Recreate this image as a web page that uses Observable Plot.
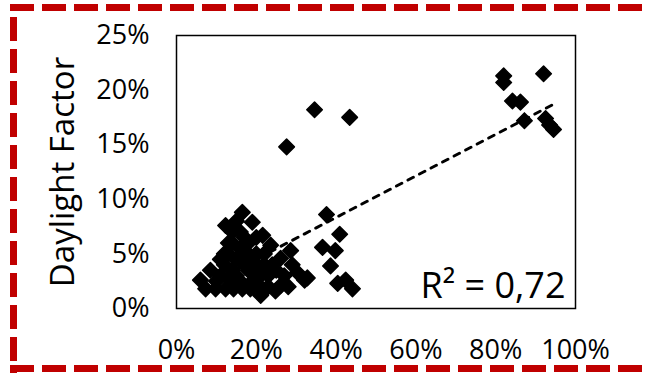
<!DOCTYPE html>
<html>
<head>
<meta charset="utf-8">
<script src="https://cdn.jsdelivr.net/npm/d3@7"></script>
<script src="https://cdn.jsdelivr.net/npm/@observablehq/plot@0.6"></script>
<style>
  html, body { margin: 0; padding: 0; background: #fff; }
  #wrap { position: relative; width: 649px; height: 373px; overflow: hidden; }
  #border { position: absolute; left: 0; top: 0; pointer-events: none; }
</style>
</head>
<body>
<div id="wrap"></div>
<script>
// Window-to-wall ratio (%) vs Daylight Factor (%)
const xValues = [
  27.6, 34.6, 43.4,
  82.0, 82.0, 92.0, 84.2, 86.2, 87.2, 92.5, 93.5, 94.5,
  37.6, 40.9, 36.6, 39.8, 38.6, 32.1, 40.4, 42.4, 44.1,
  16.5, 19.0, 12.3, 21.6, 23.6, 6.0, 8.5, 26.1, 28.6, 30.3, 26.1, 32.8, 21.1, 24.8,
  7.3, 9.8, 12.3, 14.3, 16.5, 18.5,
  13, 14, 15, 16, 17, 15, 18, 19, 20, 21, 22, 17, 14, 12, 19, 23, 16, 13, 11, 10,
  14, 15, 18, 20, 13, 16, 18, 20, 22, 24, 25, 11, 12, 17, 19, 21, 23, 27, 28, 29
];
const yValues = [
  14.8, 18.2, 17.5,
  21.3, 20.7, 21.5, 19.0, 18.9, 17.2, 17.4, 16.8, 16.4,
  8.6, 6.8, 5.6, 5.3, 3.9, 2.6, 2.3, 2.6, 1.8,
  8.8, 7.9, 7.6, 6.7, 5.8, 2.6, 3.5, 4.6, 5.3, 3.3, 2.1, 2.8, 1.2, 1.6,
  1.8, 1.8, 1.8, 1.8, 1.8, 1.8,
  5, 6, 4.5, 5.5, 4, 3, 3.5, 4.5, 5, 3, 4, 6.5, 3.5, 4, 2.5, 3, 2.5, 2.8, 3, 2.5,
  7, 8, 6, 6.5, 6, 7, 5, 4, 5, 4, 3.5, 4.5, 5, 5, 3.5, 2, 2, 3, 2, 4
];
const xTicks = [0, 20, 40, 60, 80, 100];
const yTicks = [0, 5, 10, 15, 20, 25];
const yLabel = "Daylight Factor";
const r2Label = "R² = 0,72";

const data = xValues.map((x, i) => ({x, y: yValues[i]}));
const pct = d => d + "%";

const chart = Plot.plot({
  width: 649,
  height: 373,
  marginLeft: 176,
  marginRight: 74,
  marginTop: 35,
  marginBottom: 65,
  style: {fontFamily: "'Open Sans', sans-serif", color: "#000", background: "#fff"},
  x: {domain: [0, 100]},
  y: {domain: [0, 25]},
  marks: [
    Plot.frame({stroke: "#000", strokeWidth: 1.5}),
    Plot.dot(data, {x: "x", y: "y", symbol: "diamond2", r: 7, fill: "#000", stroke: "#000", strokeWidth: 1.5, strokeLinejoin: "round"}),
    Plot.linearRegressionY(data, {x: "x", y: "y", ci: 0, stroke: "#000", strokeWidth: 3, strokeDasharray: "6,7", strokeLinecap: "round"}),
    Plot.axisX({ticks: xTicks, tickFormat: pct, tickSize: 0, tickPadding: 31, fontSize: 27, label: null}),
    Plot.axisY({ticks: yTicks, tickFormat: pct, tickSize: 0, tickPadding: 27, fontSize: 27, label: null}),
    Plot.text([yLabel], {frameAnchor: "left", text: d => d, textAnchor: "middle", rotate: -90, dx: -113, fontSize: 33, fill: "#000"}),
    Plot.text([r2Label], {frameAnchor: "bottom-right", text: d => d, textAnchor: "end", lineAnchor: "bottom", dx: -10, dy: -11, fontSize: 36, fill: "#000"})
  ]
});
const wrap = document.getElementById("wrap");
wrap.appendChild(chart);

// red dashed decorative border
const ns = "http://www.w3.org/2000/svg";
const b = document.createElementNS(ns, "svg");
b.setAttribute("id", "border");
b.setAttribute("width", 649);
b.setAttribute("height", 373);
const lines = [
  [10, 7.5, 652, 7.5],
  [13.5, 17, 13.5, 373],
  [10, 368.5, 652, 368.5]
];
for (const [x1, y1, x2, y2] of lines) {
  const l = document.createElementNS(ns, "line");
  l.setAttribute("x1", x1); l.setAttribute("y1", y1);
  l.setAttribute("x2", x2); l.setAttribute("y2", y2);
  l.setAttribute("stroke", "#C00000");
  l.setAttribute("stroke-width", 7);
  l.setAttribute("stroke-dasharray", "24,8");
  b.appendChild(l);
}
wrap.appendChild(b);
</script>
</body>
</html>
